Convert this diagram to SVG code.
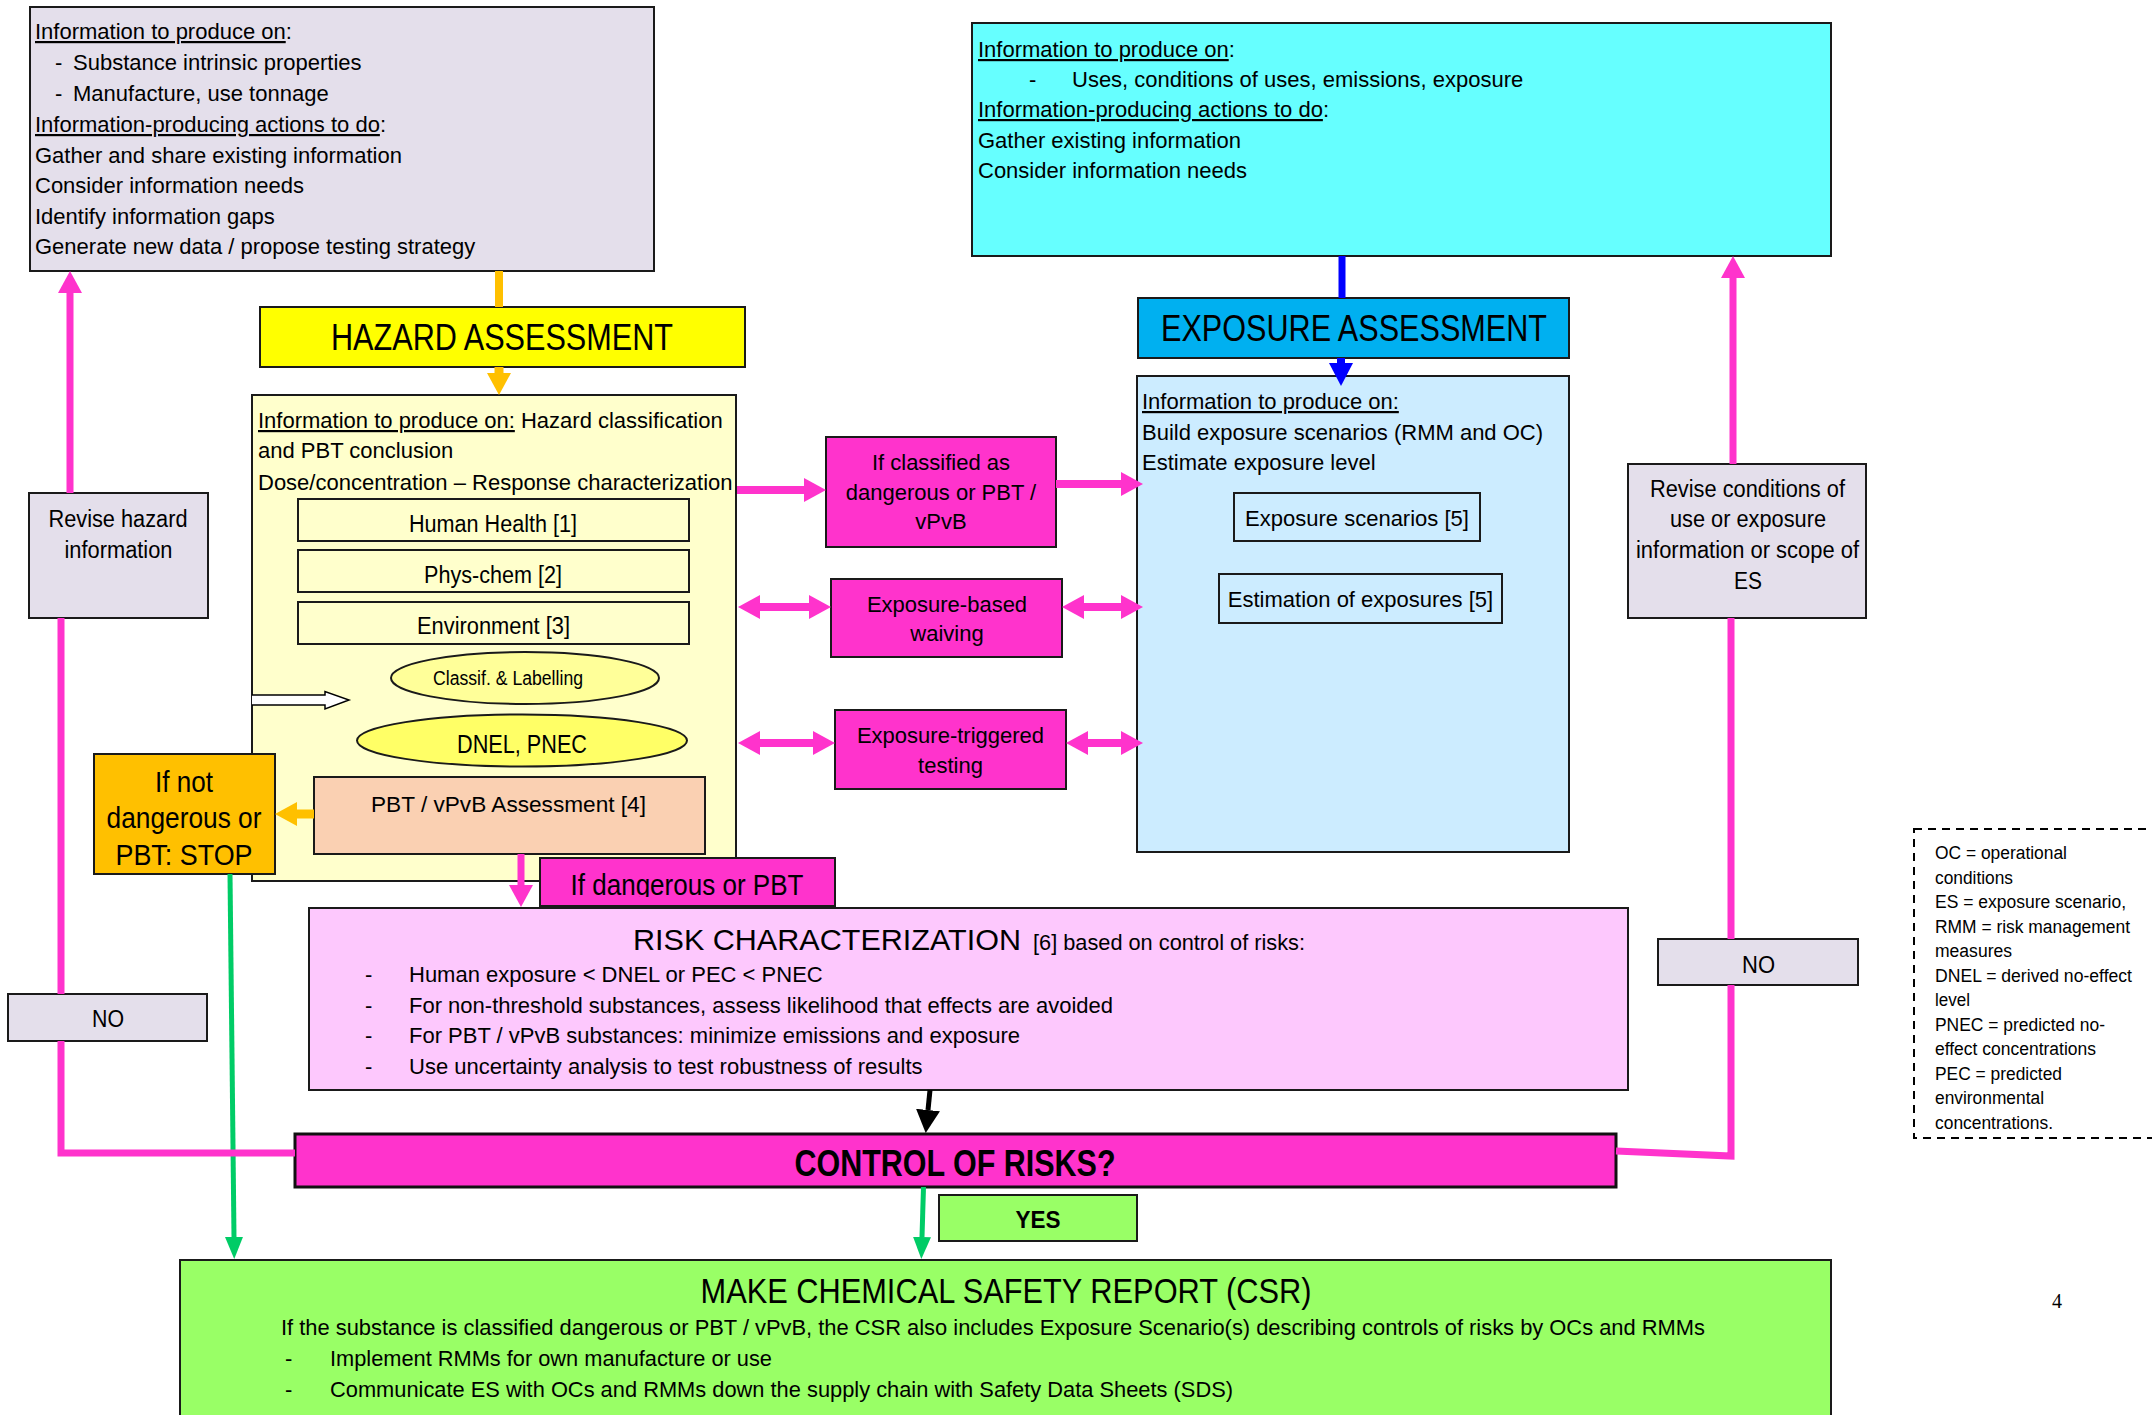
<svg xmlns="http://www.w3.org/2000/svg" width="2152" height="1415" viewBox="0 0 2152 1415">
<style>
text{font-family:"Liberation Sans",Arial,sans-serif;fill:#000}
.f22{font-size:22px}
.f23{font-size:23px}
.hd{font-size:36px}
.box{stroke:#1a1a1a;stroke-width:2}
.lav{fill:#E4DFEB}
.pink{fill:#FF33CC}
.u{text-decoration:underline}
.mid{text-anchor:middle}
.pl{stroke:#FF33CC;stroke-width:7;fill:none}
.ph{stroke:#FF33CC;stroke-width:8;fill:none}
</style>
<defs>
<marker id="hPink" viewBox="0 -12 22 24" refX="0" refY="0" markerWidth="22" markerHeight="24" markerUnits="userSpaceOnUse" orient="auto-start-reverse"><path d="M0,-12L22,0L0,12z" fill="#FF33CC"/></marker>
<marker id="hOrange" viewBox="0 -12 22 24" refX="0" refY="0" markerWidth="22" markerHeight="24" markerUnits="userSpaceOnUse" orient="auto"><path d="M0,-12L22,0L0,12z" fill="#FFC000"/></marker>
<marker id="hBlue" viewBox="0 -12 23 24" refX="0" refY="0" markerWidth="23" markerHeight="24" markerUnits="userSpaceOnUse" orient="auto"><path d="M0,-12L23,0L0,12z" fill="#0000FF"/></marker>
<marker id="hBlack" viewBox="0 -12 23 24" refX="0" refY="0" markerWidth="23" markerHeight="24" markerUnits="userSpaceOnUse" orient="auto"><path d="M0,-12L23,0L0,12z" fill="#000"/></marker>
<marker id="hGreen" viewBox="0 -9 22 18" refX="0" refY="0" markerWidth="22" markerHeight="18" markerUnits="userSpaceOnUse" orient="auto"><path d="M0,-9L22,0L0,9z" fill="#00CC66"/></marker>
<clipPath id="clipIfd"><rect x="540" y="858" width="295" height="39"/></clipPath>
</defs>
<rect width="2152" height="1415" fill="#fff"/>

<g id="info-hazard">
<rect x="30" y="7" width="624" height="264" class="box lav" stroke-width="2.5"/>
<text class="f22" x="35" y="39"><tspan class="u">Information to produce on</tspan>:</text>
<text class="f22" x="55" y="70">-</text><text class="f22" x="73" y="70">Substance intrinsic properties</text>
<text class="f22" x="55" y="101">-</text><text class="f22" x="73" y="101">Manufacture, use tonnage</text>
<text class="f22" x="35" y="132"><tspan class="u">Information-producing actions to do</tspan>:</text>
<text class="f22" x="35" y="163">Gather and share existing information</text>
<text class="f22" x="35" y="193">Consider information needs</text>
<text class="f22" x="35" y="224">Identify information gaps</text>
<text class="f22" x="35" y="254">Generate new data / propose testing strategy</text>
</g>

<g id="info-exposure">
<rect x="972" y="23" width="859" height="233" class="box" fill="#66FFFF" stroke-width="2.5"/>
<text class="f22" x="978" y="57"><tspan class="u">Information to produce on</tspan>:</text>
<text class="f22" x="1029" y="87">-</text><text class="f22" x="1072" y="87">Uses, conditions of uses, emissions, exposure</text>
<text class="f22" x="978" y="117"><tspan class="u">Information-producing actions to do</tspan>:</text>
<text class="f22" x="978" y="148">Gather existing information</text>
<text class="f22" x="978" y="178">Consider information needs</text>
</g>

<g id="hazard-header">
<rect x="260" y="307" width="485" height="60" class="box" fill="#FFFF00"/>
<text class="hd" x="331" y="350" textLength="342" lengthAdjust="spacingAndGlyphs">HAZARD ASSESSMENT</text>
</g>

<g id="exposure-header">
<rect x="1138" y="298" width="431" height="60" class="box" fill="#00B0F0" stroke-width="2.5"/>
<text class="hd" x="1161" y="341" textLength="386" lengthAdjust="spacingAndGlyphs">EXPOSURE ASSESSMENT</text>
</g>

<g id="hazard-assessment">
<rect x="252" y="395" width="484" height="486" class="box" fill="#FFFFCC"/>
<text class="f22" x="258" y="428"><tspan class="u">Information to produce on:</tspan> Hazard classification</text>
<text class="f22" x="258" y="458">and PBT conclusion</text>
<text class="f22" x="258" y="490">Dose/concentration – Response characterization</text>
</g>
<g id="human-health">
<rect x="298" y="499" width="391" height="42" class="box" fill="#FFFFCC"/>
<text class="f23" x="409" y="532" textLength="168" lengthAdjust="spacingAndGlyphs">Human Health [1]</text>
</g>
<g id="phys-chem">
<rect x="298" y="550" width="391" height="42" class="box" fill="#FFFFCC"/>
<text class="f23" x="424" y="583" textLength="138" lengthAdjust="spacingAndGlyphs">Phys-chem [2]</text>
</g>
<g id="environment">
<rect x="298" y="602" width="391" height="42" class="box" fill="#FFFFCC"/>
<text class="f23" x="417" y="634" textLength="153" lengthAdjust="spacingAndGlyphs">Environment [3]</text>
</g>
<g id="classif-labelling">
<ellipse cx="525" cy="678" rx="134" ry="26" class="box" fill="#FFFF99"/>
<text x="433" y="685" font-size="20" textLength="150" lengthAdjust="spacingAndGlyphs">Classif. &amp; Labelling</text>
</g>
<g id="dnel-pnec">
<ellipse cx="522" cy="740.5" rx="165" ry="26" class="box" fill="#FFFF66"/>
<text x="457" y="753" font-size="26" textLength="130" lengthAdjust="spacingAndGlyphs">DNEL, PNEC</text>
</g>
<g id="pbt-assessment">
<rect x="314" y="777" width="391" height="77" class="box" fill="#FAD0B2"/>
<text x="371" y="812" font-size="22.5" textLength="275" lengthAdjust="spacingAndGlyphs">PBT / vPvB Assessment [4]</text>
</g>

<g id="revise-hazard">
<rect x="29" y="493" width="179" height="125" class="box lav"/>
<text class="f23" x="48.5" y="527" textLength="139" lengthAdjust="spacingAndGlyphs">Revise hazard</text>
<text class="f23" x="64.5" y="558" textLength="108" lengthAdjust="spacingAndGlyphs">information</text>
</g>

<g id="stop">
<rect x="94" y="754" width="181" height="120" class="box" fill="#FFC000"/>
<text x="155" y="792" font-size="30" textLength="58" lengthAdjust="spacingAndGlyphs">If not</text>
<text x="106.5" y="828" font-size="30" textLength="155" lengthAdjust="spacingAndGlyphs">dangerous or</text>
<text x="115.5" y="865" font-size="30" textLength="137" lengthAdjust="spacingAndGlyphs">PBT: STOP</text>
</g>

<g id="if-classified">
<rect x="826" y="437" width="230" height="110" class="box pink"/>
<text class="f22 mid" x="941" y="470">If classified as</text>
<text class="f22 mid" x="941" y="500">dangerous or PBT /</text>
<text class="f22 mid" x="941" y="529">vPvB</text>
</g>
<g id="exposure-waiving">
<rect x="831" y="579" width="231" height="78" class="box pink"/>
<text class="f22 mid" x="947" y="612">Exposure-based</text>
<text class="f22 mid" x="947" y="641">waiving</text>
</g>
<g id="exposure-testing">
<rect x="835" y="710" width="231" height="79" class="box pink"/>
<text class="f22 mid" x="950.5" y="743">Exposure-triggered</text>
<text class="f22 mid" x="950.5" y="773">testing</text>
</g>

<g id="exposure-assessment">
<rect x="1137" y="376" width="432" height="476" class="box" fill="#CCECFF"/>
<text class="f22" x="1142" y="409"><tspan class="u">Information to produce on:</tspan></text>
<text class="f22" x="1142" y="440">Build exposure scenarios (RMM and OC)</text>
<text class="f22" x="1142" y="469.5">Estimate exposure level</text>
</g>
<g id="exposure-scenarios">
<rect x="1234" y="493" width="246" height="48" class="box" fill="#CCECFF"/>
<text class="f22 mid" x="1357" y="526">Exposure scenarios [5]</text>
</g>
<g id="estimation-exposures">
<rect x="1219" y="574" width="283" height="49" class="box" fill="#CCECFF"/>
<text class="f22 mid" x="1360.5" y="607">Estimation of exposures [5]</text>
</g>

<g id="revise-conditions">
<rect x="1628" y="464" width="238" height="154" class="box lav"/>
<text class="f23" x="1650" y="497" textLength="195" lengthAdjust="spacingAndGlyphs">Revise conditions of</text>
<text class="f23" x="1670" y="527" textLength="156" lengthAdjust="spacingAndGlyphs">use or exposure</text>
<text class="f23" x="1636" y="558" textLength="223" lengthAdjust="spacingAndGlyphs">information or scope of</text>
<text class="f23" x="1734" y="589" textLength="28" lengthAdjust="spacingAndGlyphs">ES</text>
</g>

<g id="if-dangerous">
<rect x="540" y="858" width="295" height="48" class="box pink"/>
<text x="570.5" y="895" font-size="29" textLength="233" lengthAdjust="spacingAndGlyphs" clip-path="url(#clipIfd)">If dangerous or PBT</text>
</g>

<g id="risk-characterization">
<rect x="309" y="908" width="1319" height="182" class="box" fill="#FDC8FD"/>
<text x="633" y="950" font-size="30" textLength="388" lengthAdjust="spacingAndGlyphs">RISK CHARACTERIZATION</text>
<text class="f22" x="1033" y="950" textLength="272" lengthAdjust="spacingAndGlyphs">[6] based on control of risks:</text>
<text class="f22" x="365" y="982">-</text><text class="f22" x="409" y="982">Human exposure &lt; DNEL or PEC &lt; PNEC</text>
<text class="f22" x="365" y="1013">-</text><text class="f22" x="409" y="1013">For non-threshold substances, assess likelihood that effects are avoided</text>
<text class="f22" x="365" y="1043">-</text><text class="f22" x="409" y="1043">For PBT / vPvB substances: minimize emissions and exposure</text>
<text class="f22" x="365" y="1074">-</text><text class="f22" x="409" y="1074">Use uncertainty analysis to test robustness of results</text>
</g>

<g id="no-left">
<rect x="8" y="994" width="199" height="47" class="box lav"/>
<text x="92" y="1027" font-size="24" textLength="32" lengthAdjust="spacingAndGlyphs">NO</text>
</g>
<g id="no-right">
<rect x="1658" y="939" width="200" height="46" class="box lav"/>
<text x="1742" y="973" font-size="24" textLength="33" lengthAdjust="spacingAndGlyphs">NO</text>
</g>

<g id="control-of-risks">
<rect x="295" y="1134" width="1321" height="53" class="pink" stroke="#111" stroke-width="3"/>
<text x="794.5" y="1176" font-size="36" font-weight="bold" textLength="321" lengthAdjust="spacingAndGlyphs">CONTROL OF RISKS?</text>
</g>

<g id="yes">
<rect x="939" y="1195" width="198" height="46" class="box" fill="#99FF66"/>
<text x="1015.5" y="1228" font-size="23" font-weight="bold" textLength="45" lengthAdjust="spacingAndGlyphs">YES</text>
</g>

<g id="csr">
<rect x="180" y="1260" width="1651" height="170" class="box" fill="#99FF66" stroke-width="2.5"/>
<text x="700.5" y="1303" font-size="35" textLength="611" lengthAdjust="spacingAndGlyphs">MAKE CHEMICAL SAFETY REPORT (CSR)</text>
<text class="f22" x="281" y="1335" textLength="1424" lengthAdjust="spacingAndGlyphs">If the substance is classified dangerous or PBT / vPvB, the CSR also includes Exposure Scenario(s) describing controls of risks by OCs and RMMs</text>
<text class="f22" x="285" y="1366">-</text><text class="f22" x="330" y="1366" textLength="442" lengthAdjust="spacingAndGlyphs">Implement RMMs for own manufacture or use</text>
<text class="f22" x="285" y="1397">-</text><text class="f22" x="330" y="1397" textLength="903" lengthAdjust="spacingAndGlyphs">Communicate ES with OCs and RMMs down the supply chain with Safety Data Sheets (SDS)</text>
</g>

<g id="legend">
<rect x="1914" y="829" width="260" height="309" fill="none" stroke="#000" stroke-width="2" stroke-dasharray="8,6"/>
<g font-size="18">
<text x="1935" y="859" textLength="132" lengthAdjust="spacingAndGlyphs">OC = operational</text>
<text x="1935" y="883.5" textLength="78" lengthAdjust="spacingAndGlyphs">conditions</text>
<text x="1935" y="908" textLength="191" lengthAdjust="spacingAndGlyphs">ES = exposure scenario,</text>
<text x="1935" y="932.5" textLength="195" lengthAdjust="spacingAndGlyphs">RMM = risk management</text>
<text x="1935" y="957" textLength="77" lengthAdjust="spacingAndGlyphs">measures</text>
<text x="1935" y="982" textLength="197" lengthAdjust="spacingAndGlyphs">DNEL = derived no-effect</text>
<text x="1935" y="1006" textLength="35" lengthAdjust="spacingAndGlyphs">level</text>
<text x="1935" y="1031" textLength="170" lengthAdjust="spacingAndGlyphs">PNEC = predicted no-</text>
<text x="1935" y="1055" textLength="161" lengthAdjust="spacingAndGlyphs">effect concentrations</text>
<text x="1935" y="1080" textLength="127" lengthAdjust="spacingAndGlyphs">PEC = predicted</text>
<text x="1935" y="1104" textLength="109" lengthAdjust="spacingAndGlyphs">environmental</text>
<text x="1935" y="1129" textLength="118" lengthAdjust="spacingAndGlyphs">concentrations.</text>
</g>
</g>

<text x="2052" y="1308" font-size="20" style="font-family:'Liberation Serif','Times New Roman',serif">4</text>

<g id="connectors">
<line x1="499" y1="271" x2="499" y2="307" stroke="#FFC000" stroke-width="8"/>
<line x1="499" y1="367" x2="499" y2="373" stroke="#FFC000" stroke-width="9" marker-end="url(#hOrange)"/>
<line x1="314" y1="814" x2="297" y2="814" stroke="#FFC000" stroke-width="9" marker-end="url(#hOrange)"/>
<path d="M252,695L325,695L325,691.5L349,700L325,709L325,705L252,705" fill="#fff" stroke="#000" stroke-width="1.5"/>
<line x1="1342" y1="256" x2="1342" y2="298" stroke="#0000FF" stroke-width="7"/>
<line x1="1341" y1="358" x2="1341" y2="363" stroke="#0000FF" stroke-width="8" marker-end="url(#hBlue)"/>
<line x1="737" y1="490" x2="804" y2="490" class="ph" marker-end="url(#hPink)"/>
<line x1="1056" y1="484" x2="1121" y2="484" class="ph" marker-end="url(#hPink)"/>
<line x1="760" y1="607" x2="809" y2="607" class="ph" marker-start="url(#hPink)" marker-end="url(#hPink)"/>
<line x1="1084" y1="607" x2="1121" y2="607" class="ph" marker-start="url(#hPink)" marker-end="url(#hPink)"/>
<line x1="760" y1="743" x2="813" y2="743" class="ph" marker-start="url(#hPink)" marker-end="url(#hPink)"/>
<line x1="1088" y1="743" x2="1121" y2="743" class="ph" marker-start="url(#hPink)" marker-end="url(#hPink)"/>
<line x1="521" y1="854" x2="521" y2="885" class="pl" marker-end="url(#hPink)"/>
<line x1="930" y1="1090" x2="928" y2="1110" stroke="#000" stroke-width="5" marker-end="url(#hBlack)"/>
<line x1="923.5" y1="1187" x2="922" y2="1237" stroke="#00CC66" stroke-width="5" marker-end="url(#hGreen)"/>
<line x1="230" y1="874" x2="234" y2="1237" stroke="#00CC66" stroke-width="5" marker-end="url(#hGreen)"/>
<polyline points="295,1153 61,1153 61,1041" class="pl"/>
<line x1="61" y1="994" x2="61" y2="618" class="pl"/>
<line x1="70" y1="493" x2="70" y2="293" class="pl" marker-end="url(#hPink)"/>
<polyline points="1616,1151 1731,1156 1731,985" class="pl"/>
<line x1="1731" y1="939" x2="1731" y2="618" class="pl"/>
<line x1="1733" y1="464" x2="1733" y2="278" class="pl" marker-end="url(#hPink)"/>
</g>
</svg>
